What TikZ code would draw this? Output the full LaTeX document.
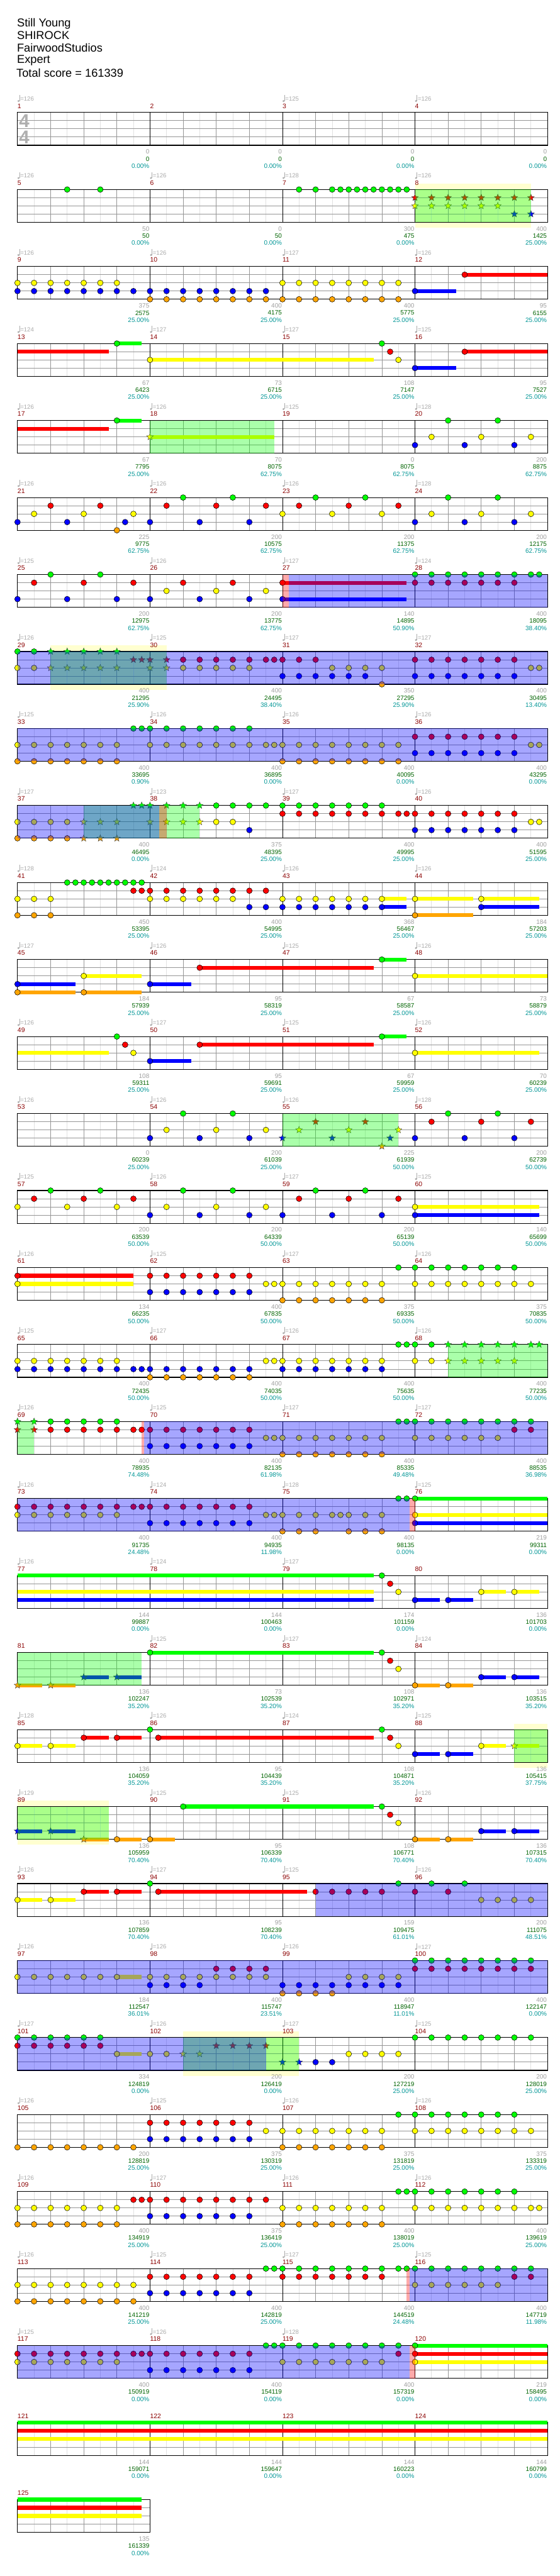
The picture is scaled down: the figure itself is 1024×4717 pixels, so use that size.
\documentclass[tikz,border=0pt]{standalone}
\usepackage{fontspec}
\setmainfont{Liberation Sans}
\usetikzlibrary{shapes.geometric}
\definecolor{cG}{RGB}{0,255,0}
\definecolor{cR}{RGB}{255,0,0}
\definecolor{cY}{RGB}{255,255,0}
\definecolor{cB}{RGB}{0,0,255}
\definecolor{cO}{RGB}{255,165,0}
\definecolor{ybgc}{RGB}{255,255,208}
\definecolor{eighthc}{RGB}{225,225,225}
\definecolor{beatc}{RGB}{150,150,150}
\definecolor{tempoc}{RGB}{170,170,170}
\definecolor{graytc}{RGB}{160,160,160}
\definecolor{greentc}{RGB}{0,100,0}
\definecolor{tealtc}{RGB}{0,150,150}
\definecolor{mnumc}{RGB}{139,0,0}
\definecolor{tsigc}{RGB}{175,175,175}
\tikzset{
 rowat/.style={shift={(32pt,-#1pt)},x=60.625pt,y=-15pt},
 notedraw/.style={draw=black,line width=0.6pt},
 starnote/.style={star,star points=5,star point ratio=2.3,minimum size=13pt,inner sep=0pt,draw=black!75,line width=0.5pt},
 eighthl/.style={draw=eighthc,line width=0.8pt},
 beatl/.style={draw=beatc,line width=0.8pt},
 lanel/.style={draw=beatc,line width=1.1pt},
 barl/.style={draw=black,line width=0.8pt},
 borderl/.style={draw=black,line width=1.3pt},
 mnum/.style={anchor=west,inner sep=0pt,text=mnumc,font=\fontsize{12}{12}\selectfont},
 ttxt/.style={anchor=west,inner sep=0pt,text=tempoc,font=\fontsize{11}{11}\selectfont},
 gtxt/.style={anchor=east,inner sep=0pt,text=graytc,font=\fontsize{11.5}{12}\selectfont},
 ntxt/.style={anchor=east,inner sep=0pt,text=greentc,font=\fontsize{11.5}{12}\selectfont},
 ptxt/.style={anchor=east,inner sep=0pt,text=tealtc,font=\fontsize{11.5}{12}\selectfont},
 tsig/.style={inner sep=0pt,text=tsigc,font=\fontsize{34}{34}\selectfont\bfseries},
 titletxt/.style={anchor=west,inner sep=0pt,font=\fontsize{21}{24}\selectfont},
}
\newcommand\nt[3]{\foreach \bb in {#3}{\draw[notedraw,fill=#1] (\bb,#2) circle[radius=5.2pt];}}
\newcommand\st[3]{\foreach \bb in {#3}{\node[starnote,fill=#1] at (\bb,#2) {};}}
\newcommand\su[4]{\fill[#1] ([yshift=3.5pt]#3,#2) rectangle ([yshift=-3.5pt]#4,#2);}
\newcommand\gov[2]{\fill[cG,opacity=0.333] (#1,0) rectangle (#2,4);}
\newcommand\bov[2]{\fill[cB,opacity=0.35] (#1,0) rectangle (#2,4);}
\newcommand\pov[2]{\fill[cR,opacity=0.333] (#1,0) rectangle (#2,4);}
\newcommand\ybg[2]{\fill[ybgc] ([yshift=11pt]#1,0) rectangle ([yshift=-10pt]#2,4);}
\newcommand\tp[2]{\fill[tempoc] ([xshift=1.8pt,yshift=21pt]#1,0) circle[radius=1.9pt];
 \draw[tempoc,line width=0.7pt] ([xshift=3.5pt,yshift=21pt]#1,0) -- ([xshift=3.5pt,yshift=32pt]#1,0);
 \node[ttxt] at ([xshift=5pt,yshift=25pt]#1,0) {=#2};}
\newcommand\tpo[2]{\if\relax\detokenize{#2}\relax\else\tp{#1}{#2}\fi}
\newcommand\mn[2]{\node[mnum] at ([yshift=12pt]#1,0) {#2};}
\newcommand\hdr[5]{\mn{0}{#1}\mn{4}{\the\numexpr#1+1\relax}\mn{8}{\the\numexpr#1+2\relax}\mn{12}{\the\numexpr#1+3\relax}\tpo{0}{#2}\tpo{4}{#3}\tpo{8}{#4}\tpo{12}{#5}}
\newcommand\mi[4]{\node[gtxt] at ([xshift=-1pt,yshift=-12pt]#1,4) {#2};
 \node[ntxt] at ([xshift=-1pt,yshift=-25pt]#1,4) {#3};
 \node[ptxt] at ([xshift=-1pt,yshift=-38pt]#1,4) {#4\%};}
\newcommand\fullgrid{%
 \foreach \i in {0.5,1.5,...,15.5} \draw[eighthl] (\i,0)--(\i,4);
 \foreach \i in {1,2,3,5,6,7,9,10,11,13,14,15} \draw[beatl] (\i,0)--(\i,4);
 \foreach \i in {1,2,3} \draw[lanel] (0,\i)--(16,\i);
 \foreach \i in {4,8,12} \draw[barl] (\i,0)--(\i,4);
 \draw[borderl] (0,0) rectangle (16,4);}
\begin{document}
\begin{tikzpicture}
\useasboundingbox (0,0) rectangle (1024pt,-4717pt);
\fill[white] (0,0) rectangle (1024pt,-4717pt);
\node[titletxt] (title) at (31pt,-43pt) {Still Young};
\node[titletxt] (artist) at (31pt,-65pt) {SHIROCK};
\node[titletxt] (charter) at (31pt,-88pt) {FairwoodStudios};
\node[titletxt] (diff) at (31pt,-111pt) {Expert};
\node[titletxt] (score) at (30pt,-134pt) {Total score = 161339};
% row 1
\begin{scope}[rowat=206]
\fullgrid
\node[tsig] at ([xshift=12.5pt]0,1) {4};
\node[tsig] at ([xshift=12.5pt]0,3) {4};
\hdr{1}{126}{}{125}{126}
\mi{4}{0}{0}{0.00}\mi{8}{0}{0}{0.00}\mi{12}{0}{0}{0.00}\mi{16}{0}{0}{0.00}
\end{scope}
% row 2
\begin{scope}[rowat=347]
\ybg{12}{15.5}
\fullgrid
\hdr{5}{126}{126}{128}{126}
\nt{cG}{0}{1.5,2.5,8.5,9,9.5,9.75,10,10.25,10.5,10.75,11,11.25,11.5,11.75}
\st{cR}{1}{12,12.5,...,15.5}
\st{cY}{2}{12,12.5,...,14.5}
\st{cB}{3}{15,15.5}
\gov{12}{15.5}
\mi{4}{50}{50}{0.00}\mi{8}{0}{50}{0.00}\mi{12}{300}{475}{0.00}\mi{16}{400}{1425}{25.00}
\end{scope}
% row 3
\begin{scope}[rowat=488]
\fullgrid
\hdr{9}{126}{126}{127}{126}
\su{cR}{1}{13.5}{16}\su{cB}{3}{12}{13.25}
\nt{cY}{2}{0,0.5,...,3}\nt{cY}{2}{8,8.5,...,11.5}
\nt{cB}{3}{0,0.5,...,7.5}\nt{cB}{3}{12}
\nt{cO}{4}{4,4.5,...,11.5}
\nt{cR}{1}{13.5}
\mi{4}{375}{2575}{25.00}\mi{8}{400}{4175}{25.00}\mi{12}{400}{5775}{25.00}\mi{16}{95}{6155}{25.00}
\end{scope}
% row 4
\begin{scope}[rowat=629]
\fullgrid
\hdr{13}{124}{127}{127}{125}
\su{cR}{1}{0}{2.75}\su{cG}{0}{3}{3.75}\su{cY}{2}{4}{10.75}\su{cB}{3}{12}{13.25}\su{cR}{1}{13.5}{16}
\nt{cG}{0}{3,11}\nt{cR}{1}{11.25,13.5}\nt{cY}{2}{4,11.5}\nt{cB}{3}{12}
\mi{4}{67}{6423}{25.00}\mi{8}{73}{6715}{25.00}\mi{12}{108}{7147}{25.00}\mi{16}{95}{7527}{25.00}
\end{scope}
% row 5
\begin{scope}[rowat=770]
\fullgrid
\hdr{17}{126}{126}{125}{128}
\su{cR}{1}{0}{2.75}\su{cG}{0}{3}{3.75}\su{cY}{2}{4}{7.75}
\nt{cG}{0}{3,13,14.5}\st{cY}{2}{4}\nt{cY}{2}{12.5,14,15.5}\nt{cB}{3}{12,13.5,15}
\gov{4}{7.75}
\mi{4}{67}{7795}{25.00}\mi{8}{70}{8075}{62.75}\mi{12}{0}{8075}{62.75}\mi{16}{200}{8875}{62.75}
\end{scope}
% row 6
\begin{scope}[rowat=911]
\fullgrid
\hdr{21}{126}{126}{126}{128}
\nt{cG}{0}{5,6.5,9,10.5,13,14.5}
\nt{cR}{1}{1,2.5,4.5,6,7.5,8.5,10,11.5}
\nt{cY}{2}{0.5,2,3.5,8,9.5,11,12.5,14,15.5}
\nt{cB}{3}{0,1.5,3.25,4,5.5,7,12,13.5,15}
\nt{cO}{4}{3}
\mi{4}{225}{9775}{62.75}\mi{8}{200}{10575}{62.75}\mi{12}{200}{11375}{62.75}\mi{16}{200}{12175}{62.75}
\end{scope}
% row 7
\begin{scope}[rowat=1052]
\fullgrid
\hdr{25}{125}{126}{127}{124}
\su{cR}{1}{8}{11.75}\su{cB}{3}{8}{11.75}
\nt{cG}{0}{1,2.5}\nt{cG}{0}{12,12.5,...,15.5}\nt{cG}{0}{15.75}
\nt{cR}{1}{0.5,2,3.5,5,6.5,8}\nt{cR}{1}{12,12.5,...,15}
\nt{cY}{2}{4.5,6,7.5}
\nt{cB}{3}{0,1.5,3,4,5.5,7,8}
\pov{8}{8.2}\bov{8.2}{16}
\mi{4}{200}{12975}{62.75}\mi{8}{200}{13775}{62.75}\mi{12}{140}{14895}{50.90}\mi{16}{400}{18095}{38.40}
\end{scope}
% row 8
\begin{scope}[rowat=1193]
\ybg{1}{4.5}
\fullgrid
\hdr{29}{126}{125}{127}{127}
\nt{cG}{0}{0,0.5}\st{cG}{0}{1,1.5,...,3}
\st{cR}{1}{3.5,3.75,4,4.5}\nt{cR}{1}{5,5.5,...,7.5}\nt{cR}{1}{7.75,8,8.5,9}\nt{cR}{1}{12,12.5,...,15}
\nt{cY}{2}{0,0.5}\st{cY}{2}{1,1.5,...,3}\st{cY}{2}{4,4.5}\nt{cY}{2}{5,5.5,...,7}\nt{cY}{2}{9.5,10,10.5,11,15.5,15.75}
\nt{cB}{3}{8,8.5,...,10.5}\nt{cB}{3}{12,12.5,...,15}
\nt{cO}{4}{11}
\gov{1}{4.5}\bov{0}{16}
\mi{4}{400}{21295}{25.90}\mi{8}{400}{24495}{38.40}\mi{12}{350}{27295}{25.90}\mi{16}{400}{30495}{13.40}
\end{scope}
% row 9
\begin{scope}[rowat=1334]
\fullgrid
\hdr{33}{125}{126}{126}{126}
\nt{cG}{0}{3.5,3.75}\nt{cG}{0}{4,4.5,...,7}
\nt{cR}{1}{12,12.5,...,15}
\nt{cY}{2}{0,0.5,...,3}\nt{cY}{2}{4,4.5,...,7.5}\nt{cY}{2}{7.75}\nt{cY}{2}{8,8.5,...,11.5}\nt{cY}{2}{15.5,15.75}
\nt{cB}{3}{12,12.5,...,15}
\nt{cO}{4}{0,0.5,...,3}\nt{cO}{4}{8,8.5,...,11.5}
\bov{0}{16}
\mi{4}{400}{33695}{0.90}\mi{8}{400}{36895}{0.00}\mi{12}{400}{40095}{0.00}\mi{16}{400}{43295}{0.00}
\end{scope}
% row 10
\begin{scope}[rowat=1475]
\fullgrid
\hdr{37}{127}{123}{127}{126}
\st{cG}{0}{3.5,3.75,4,4.5,5,5.5}\nt{cG}{0}{6,6.5,...,11}
\nt{cR}{1}{8,8.5,...,11.5}\nt{cR}{1}{11.75}\nt{cR}{1}{12,12.5,...,15}
\nt{cY}{2}{0,0.5,1,1.5}\st{cY}{2}{2,2.5,3,4,4.5,5,5.5}\nt{cY}{2}{6,6.5,15.5,15.75}
\nt{cB}{3}{7}\nt{cB}{3}{12,12.5,...,15}
\nt{cO}{4}{0,0.5,1,1.5}\st{cO}{4}{2,2.5,3}
\gov{2}{5.5}\pov{4.28}{4.5}\bov{0}{4.28}
\mi{4}{400}{46495}{0.00}\mi{8}{375}{48395}{25.00}\mi{12}{400}{49995}{25.00}\mi{16}{400}{51595}{25.00}
\end{scope}
% row 11
\begin{scope}[rowat=1616]
\fullgrid
\hdr{41}{128}{124}{126}{126}
\su{cY}{2}{11}{11.75}\su{cY}{2}{12}{13.75}\su{cY}{2}{14}{15.75}\su{cB}{3}{11}{11.75}\su{cB}{3}{14}{15.75}\su{cO}{4}{12}{13.75}
\nt{cG}{0}{1.5,1.75,...,3.75}
\nt{cR}{1}{3.5,3.75}\nt{cR}{1}{4,4.5,...,7.5}
\nt{cY}{2}{0,0.5,1}\nt{cY}{2}{4,4.5,...,6.5}\nt{cY}{2}{8,8.5,...,11}\nt{cY}{2}{12,14}
\nt{cB}{3}{7,7.5}\nt{cB}{3}{8,8.5,...,11}\nt{cB}{3}{14}
\nt{cO}{4}{0,0.5,1,12}
\mi{4}{450}{53395}{25.00}\mi{8}{400}{54995}{25.00}\mi{12}{368}{56467}{25.00}\mi{16}{184}{57203}{25.00}
\end{scope}
% row 12
\begin{scope}[rowat=1757]
\fullgrid
\hdr{45}{127}{126}{125}{126}
\su{cB}{3}{0}{1.75}\su{cO}{4}{0}{1.75}\su{cY}{2}{2}{3.75}\su{cO}{4}{2}{3.75}\su{cB}{3}{4}{5.25}\su{cR}{1}{5.5}{10.75}\su{cG}{0}{11}{11.75}\su{cY}{2}{12}{16}
\nt{cB}{3}{0,4}\nt{cO}{4}{0,2}\nt{cY}{2}{2,12}\nt{cR}{1}{5.5}\nt{cG}{0}{11}
\mi{4}{184}{57939}{25.00}\mi{8}{95}{58319}{25.00}\mi{12}{67}{58587}{25.00}\mi{16}{73}{58879}{25.00}
\end{scope}
% row 13
\begin{scope}[rowat=1898]
\fullgrid
\hdr{49}{126}{127}{125}{126}
\su{cY}{2}{0}{2.75}\su{cB}{3}{4}{5.25}\su{cR}{1}{5.5}{10.75}\su{cG}{0}{11}{11.75}\su{cY}{2}{12}{15.75}
\nt{cG}{0}{3,11}\nt{cR}{1}{3.25,5.5}\nt{cY}{2}{3.5,12}\nt{cB}{3}{4}
\mi{4}{108}{59311}{25.00}\mi{8}{95}{59691}{25.00}\mi{12}{67}{59959}{25.00}\mi{16}{70}{60239}{25.00}
\end{scope}
% row 14
\begin{scope}[rowat=2039]
\fullgrid
\hdr{53}{126}{126}{126}{128}
\nt{cG}{0}{5,6.5,13,14.5}\nt{cY}{2}{4.5,6,7.5}\nt{cB}{3}{4,5.5,7,12,13.5,15}\nt{cR}{1}{12.5,14,15.5}
\st{cB}{3}{8,9.5,11.25}\st{cY}{2}{8.5,10,11.5}\st{cR}{1}{9,10.5}\st{cO}{4}{11}
\gov{8}{11.5}
\mi{4}{0}{60239}{25.00}\mi{8}{200}{61039}{25.00}\mi{12}{225}{61939}{50.00}\mi{16}{200}{62739}{50.00}
\end{scope}
% row 15
\begin{scope}[rowat=2180]
\fullgrid
\hdr{57}{125}{126}{127}{125}
\su{cY}{2}{12}{15.75}\su{cB}{3}{12}{15.75}
\nt{cG}{0}{1,2.5,5,6.5,9,10.5}\nt{cR}{1}{0.5,2,3.5,8.5,10,11.5}\nt{cY}{2}{0,1.5,3,4.5,6,7.5,12}\nt{cB}{3}{4,5.5,7,8,9.5,11,12}
\mi{4}{200}{63539}{50.00}\mi{8}{200}{64339}{50.00}\mi{12}{200}{65139}{50.00}\mi{16}{140}{65699}{50.00}
\end{scope}
% row 16
\begin{scope}[rowat=2321]
\fullgrid
\hdr{61}{126}{125}{127}{126}
\su{cR}{1}{0}{3.5}\su{cY}{2}{0}{3.5}
\nt{cR}{1}{0}\nt{cR}{1}{4,4.5,...,7}\nt{cY}{2}{0,7.5,7.75}\nt{cY}{2}{8,8.5,...,11}\nt{cY}{2}{12,12.5,...,15.5}\nt{cB}{3}{4,4.5,...,7}\nt{cO}{4}{8,8.5,...,11}\nt{cG}{0}{11.5}\nt{cG}{0}{12,12.5,...,15}
\mi{4}{134}{66235}{50.00}\mi{8}{400}{67835}{50.00}\mi{12}{375}{69335}{50.00}\mi{16}{375}{70835}{50.00}
\end{scope}
% row 17
\begin{scope}[rowat=2462]
\fullgrid
\hdr{65}{125}{127}{126}{126}
\nt{cY}{2}{0,0.5,...,3}\nt{cY}{2}{7.5,7.75}\nt{cY}{2}{8,8.5,...,11}\nt{cY}{2}{12,12.5}\st{cY}{2}{13,13.5,...,15}
\nt{cB}{3}{0,0.5,...,3}\nt{cB}{3}{3.5,3.75}\nt{cB}{3}{4,4.5,...,7}\nt{cB}{3}{8,8.5,...,11}
\nt{cO}{4}{4,4.5,...,7}
\nt{cG}{0}{11.5,11.75,12,12.5}\st{cG}{0}{13,13.5,...,15.5}\st{cG}{0}{15.75}
\gov{13}{16}
\mi{4}{400}{72435}{50.00}\mi{8}{400}{74035}{50.00}\mi{12}{400}{75635}{50.00}\mi{16}{400}{77235}{50.00}
\end{scope}
% row 18
\begin{scope}[rowat=2603]
\fullgrid
\hdr{69}{126}{125}{127}{127}
\st{cG}{0}{0,0.5}\st{cR}{1}{0,0.5}
\nt{cG}{0}{1,1.5,...,3}\nt{cR}{1}{1,1.5,...,3.5}\nt{cR}{1}{3.75}\nt{cR}{1}{4,4.5,...,7}
\nt{cB}{3}{4,4.5,...,7}
\nt{cY}{2}{7.5,7.75}\nt{cY}{2}{8,8.5,...,11}\nt{cY}{2}{12,12.5,...,14.5}
\nt{cO}{4}{8,8.5,...,11}
\nt{cG}{0}{11.5,11.75}\nt{cG}{0}{12,12.5,...,15.5}
\nt{cR}{1}{15,15.5}
\gov{0}{0.5}\pov{3.75}{3.83}\bov{3.83}{16}
\mi{4}{400}{78935}{74.48}\mi{8}{400}{82135}{61.98}\mi{12}{400}{85335}{49.48}\mi{16}{400}{88535}{36.98}
\end{scope}
% row 19
\begin{scope}[rowat=2744]
\fullgrid
\hdr{73}{126}{124}{128}{125}
\su{cY}{2}{12}{16}\su{cB}{3}{12}{16}\su{cG}{0}{12}{16}
\nt{cR}{1}{0,0.5,...,3.5}\nt{cR}{1}{3.75}\nt{cR}{1}{4,4.5,...,7}
\nt{cY}{2}{0,0.5,...,3}\nt{cY}{2}{7.5,7.75,8,8.5,9,9.5,9.75,10,10.5,11,12}
\nt{cB}{3}{4,4.5,...,7}\nt{cB}{3}{12}
\nt{cO}{4}{8,8.5,9,10,10.5,11}
\nt{cG}{0}{11.5,11.75,12}
\bov{0}{11.83}\pov{11.83}{12}
\mi{4}{400}{91735}{24.48}\mi{8}{400}{94935}{11.98}\mi{12}{400}{98135}{0.00}\mi{16}{219}{99311}{0.00}
\end{scope}
% row 20
\begin{scope}[rowat=2885]
\fullgrid
\hdr{77}{126}{124}{127}{}
\su{cG}{0}{0}{10.75}\su{cY}{2}{0}{10.75}\su{cB}{3}{0}{10.75}\su{cB}{3}{12}{12.75}\su{cB}{3}{13}{13.75}\su{cY}{2}{14}{14.75}\su{cY}{2}{15}{15.75}
\nt{cG}{0}{11}\nt{cR}{1}{11.25}\nt{cY}{2}{11.5,14,15}\nt{cB}{3}{12,13}
\mi{4}{144}{99887}{0.00}\mi{8}{144}{100463}{0.00}\mi{12}{174}{101159}{0.00}\mi{16}{136}{101703}{0.00}
\end{scope}
% row 21
\begin{scope}[rowat=3026]
\fullgrid
\hdr{81}{}{125}{127}{124}
\su{cO}{4}{0}{0.75}\su{cO}{4}{1}{1.75}\su{cB}{3}{2}{2.75}\su{cB}{3}{3}{3.75}\su{cG}{0}{4}{10.75}\su{cO}{4}{12}{12.75}\su{cO}{4}{13}{13.75}\su{cB}{3}{14}{14.75}\su{cB}{3}{15}{15.75}
\st{cO}{4}{0,1}\st{cB}{3}{2,3}\nt{cG}{0}{4,11}\nt{cR}{1}{11.25}\nt{cY}{2}{11.5}\nt{cO}{4}{12,13}\nt{cB}{3}{14,15}
\gov{0}{3.75}
\mi{4}{136}{102247}{35.20}\mi{8}{73}{102539}{35.20}\mi{12}{108}{102971}{35.20}\mi{16}{136}{103515}{35.20}
\end{scope}
% row 22
\begin{scope}[rowat=3167]
\ybg{15}{16}
\fullgrid
\hdr{85}{128}{126}{124}{125}
\su{cY}{2}{0}{0.75}\su{cY}{2}{1}{1.75}\su{cR}{1}{2}{2.75}\su{cR}{1}{3}{3.75}\su{cR}{1}{4.25}{10.75}\su{cB}{3}{12}{12.75}\su{cB}{3}{13}{13.75}\su{cY}{2}{14}{14.75}\su{cY}{2}{15}{15.75}
\nt{cY}{2}{0,1,11.5,14}\nt{cR}{1}{2,3,4.25,11.25}\nt{cG}{0}{4,11}\nt{cB}{3}{12,13}\st{cY}{2}{15}
\gov{15}{16}
\mi{4}{136}{104059}{35.20}\mi{8}{95}{104439}{35.20}\mi{12}{108}{104871}{35.20}\mi{16}{136}{105415}{37.75}
\end{scope}
% row 23
\begin{scope}[rowat=3308]
\ybg{0}{2.75}
\fullgrid
\hdr{89}{129}{125}{125}{126}
\su{cB}{3}{0}{0.75}\su{cB}{3}{1}{1.75}\su{cO}{4}{2}{2.75}\su{cO}{4}{3}{3.75}\su{cO}{4}{4}{4.75}\su{cG}{0}{5}{10.75}\su{cO}{4}{12}{12.75}\su{cO}{4}{13}{13.75}\su{cB}{3}{14}{14.75}\su{cB}{3}{15}{15.75}
\st{cB}{3}{0,1}\st{cO}{4}{2}\nt{cO}{4}{3,4,12,13}\nt{cG}{0}{5,11}\nt{cR}{1}{11.25}\nt{cY}{2}{11.5}\nt{cB}{3}{14,15}
\gov{0}{2.75}
\mi{4}{136}{105959}{70.40}\mi{8}{95}{106339}{70.40}\mi{12}{108}{106771}{70.40}\mi{16}{136}{107315}{70.40}
\end{scope}
% row 24
\begin{scope}[rowat=3449]
\fullgrid
\hdr{93}{126}{127}{125}{126}
\su{cY}{2}{0}{0.75}\su{cY}{2}{1}{1.75}\su{cR}{1}{2}{2.75}\su{cR}{1}{3}{3.75}\su{cR}{1}{4.25}{8.75}
\nt{cY}{2}{0,1}\nt{cR}{1}{2,3,4.25}\nt{cG}{0}{4}
\nt{cR}{1}{9,9.5,10,10.5,11,12,13}\nt{cG}{0}{11.5,12.5,13.5}\nt{cY}{2}{14,14.5,15,15.5}
\bov{9}{16}
\mi{4}{136}{107859}{70.40}\mi{8}{95}{108239}{70.40}\mi{12}{159}{109475}{61.01}\mi{16}{200}{111075}{48.51}
\end{scope}
% row 25
\begin{scope}[rowat=3590]
\fullgrid
\hdr{97}{126}{126}{126}{127}
\su{cY}{2}{3}{3.75}
\nt{cY}{2}{0,0.5,...,3}\nt{cY}{2}{4,4.5,...,7.5}\nt{cY}{2}{10,10.5,11,11.5}
\nt{cR}{1}{6,6.5,7,7.5}\nt{cR}{1}{12,12.5,...,15.5}
\nt{cB}{3}{4,4.5,5,5.5}\nt{cB}{3}{8,8.5,...,11.5}
\nt{cO}{4}{8,8.5,9,9.5}
\nt{cG}{0}{12,12.5,...,15.5}
\bov{0}{16}
\mi{4}{184}{112547}{36.01}\mi{8}{400}{115747}{23.51}\mi{12}{400}{118947}{11.01}\mi{16}{400}{122147}{0.00}
\end{scope}
% row 26
\begin{scope}[rowat=3731]
\ybg{5}{8.5}
\fullgrid
\hdr{101}{127}{126}{127}{125}
\su{cY}{2}{3}{3.75}
\nt{cG}{0}{0,0.5,...,2.5}\nt{cR}{1}{0,0.5,...,2.5}\nt{cY}{2}{3,4,4.5}\st{cY}{2}{5,5.5}\st{cR}{1}{6,6.5,7,7.5}\st{cB}{3}{8,8.5}\nt{cB}{3}{9,9.5}\nt{cY}{2}{10,10.5,11,11.5}\nt{cG}{0}{12,12.5,...,15.5}
\gov{5}{8.5}\bov{0}{7.5}
\mi{4}{334}{124819}{0.00}\mi{8}{200}{126419}{0.00}\mi{12}{200}{127219}{25.00}\mi{16}{200}{128019}{25.00}
\end{scope}
% row 27
\begin{scope}[rowat=3872]
\fullgrid
\hdr{105}{126}{125}{126}{126}
\nt{cO}{4}{0,0.5,...,3.5}\nt{cR}{1}{4,4.5,...,7}\nt{cB}{3}{4,4.5,...,7}\nt{cY}{2}{7.5}\nt{cY}{2}{8,8.5,...,11}\nt{cY}{2}{12,12.5,...,15.5}\nt{cO}{4}{8,8.5,...,11}\nt{cG}{0}{11.5}\nt{cG}{0}{12,12.5,...,15}
\mi{4}{200}{128819}{25.00}\mi{8}{375}{130319}{25.00}\mi{12}{375}{131819}{25.00}\mi{16}{375}{133319}{25.00}
\end{scope}
% row 28
\begin{scope}[rowat=4013]
\fullgrid
\hdr{109}{126}{127}{126}{126}
\nt{cY}{2}{0,0.5,...,3}\nt{cO}{4}{0,0.5,...,3}\nt{cR}{1}{3.5,3.75}\nt{cR}{1}{4,4.5,...,7.5}\nt{cB}{3}{4,4.5,...,7}\nt{cY}{2}{8,8.5,...,11}\nt{cY}{2}{12,12.5,...,15}\nt{cY}{2}{15.5,15.75}\nt{cO}{4}{8,8.5,...,11}\nt{cG}{0}{11.5,11.75}\nt{cG}{0}{12,12.5,...,15}
\mi{4}{400}{134919}{25.00}\mi{8}{375}{136419}{25.00}\mi{12}{400}{138019}{25.00}\mi{16}{400}{139619}{25.00}
\end{scope}
% row 29
\begin{scope}[rowat=4154]
\fullgrid
\hdr{113}{126}{125}{127}{125}
\nt{cY}{2}{0,0.5,...,3.5}\nt{cO}{4}{0,0.5,...,3.5}\nt{cR}{1}{4,4.5,...,7}\nt{cR}{1}{8,8.5,...,11}\nt{cR}{1}{15,15.5}\nt{cB}{3}{4,4.5,...,7}\nt{cG}{0}{7.5,7.75}\nt{cG}{0}{8,8.5,...,11.5}\nt{cG}{0}{11.75}\nt{cG}{0}{12,12.5,...,15.5}\nt{cY}{2}{12,12.5,...,14.5}
\pov{11.75}{11.83}\bov{11.83}{16}
\mi{4}{400}{141219}{25.00}\mi{8}{400}{142819}{25.00}\mi{12}{400}{144519}{24.48}\mi{16}{400}{147719}{11.98}
\end{scope}
% row 30
\begin{scope}[rowat=4295]
\fullgrid
\hdr{117}{125}{126}{128}{}
\su{cR}{1}{12}{16}\su{cY}{2}{12}{16}\su{cG}{0}{12}{16}
\nt{cR}{1}{0,0.5,...,3.5}\nt{cR}{1}{3.75}\nt{cR}{1}{4,4.5,...,7}\nt{cR}{1}{11.5,12}
\nt{cY}{2}{0,0.5,...,3}\nt{cY}{2}{8,8.5,...,11}\nt{cY}{2}{12}
\nt{cB}{3}{4,4.5,...,7}
\nt{cG}{0}{7.5,7.75}\nt{cG}{0}{8,8.5,...,11.5}\nt{cG}{0}{12}
\bov{0}{11.83}\pov{11.83}{12}
\mi{4}{400}{150919}{0.00}\mi{8}{400}{154119}{0.00}\mi{12}{400}{157319}{0.00}\mi{16}{219}{158495}{0.00}
\end{scope}
% row 31
\begin{scope}[rowat=4436]
\fullgrid
\hdr{121}{}{}{}{}
\su{cG}{0}{0}{16}\su{cR}{1}{0}{16}\su{cY}{2}{0}{16}
\mi{4}{144}{159071}{0.00}\mi{8}{144}{159647}{0.00}\mi{12}{144}{160223}{0.00}\mi{16}{144}{160799}{0.00}
\end{scope}
% row 32
\begin{scope}[rowat=4577]
\foreach \i in {0.5,1.5,2.5,3.5} \draw[eighthl] (\i,0)--(\i,4);
\foreach \i in {1,2,3} \draw[beatl] (\i,0)--(\i,4);
\foreach \i in {1,2,3} \draw[lanel] (0,\i)--(4,\i);
\draw[borderl] (0,0) rectangle (4,4);
\mn{0}{125}
\su{cG}{0}{0}{3.75}\su{cR}{1}{0}{3.75}\su{cY}{2}{0}{3.75}
\mi{4}{135}{161339}{0.00}
\end{scope}
\end{tikzpicture}
\end{document}
